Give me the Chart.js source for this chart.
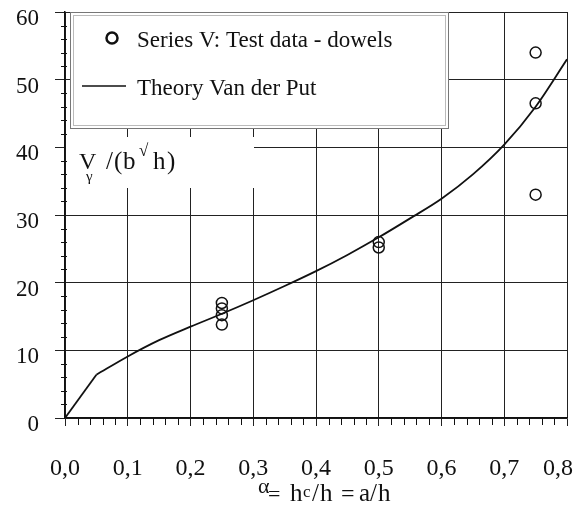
<!DOCTYPE html>
<html lang="en">
<head>
  <meta charset="UTF-8" />
  <title>Series V: Test data - dowels</title>
  <script src="https://cdn.jsdelivr.net/npm/chart.js"></script>
  <style>
    body { margin: 0; background: white; }
    #wrap { width: 581px; height: 510px; }
  </style>
</head>
<body>
  <div id="wrap"><canvas id="grafica"></canvas></div>
  <script>
    // tick labels
    const xTickLabels = ['0,0', '0,1', '0,2', '0,3', '0,4', '0,5', '0,6', '0,7', '0,8'];
    const yTickLabels = ['0', '10', '20', '30', '40', '50', '60'];

    // series V test data (dowels)
    const testX = [0.25, 0.25, 0.25, 0.25, 0.5, 0.5, 0.75, 0.75, 0.75];
    const testY = [17.0, 16.2, 15.2, 13.8, 26.0, 25.2, 54.0, 46.5, 33.0];

    // theory Van der Put
    const theoryX = [0, 0.05, 0.1, 0.15, 0.2, 0.25, 0.3, 0.35, 0.4, 0.45, 0.5, 0.55, 0.6, 0.65, 0.7, 0.75, 0.8];
    const theoryY = [0, 6.4, 9.1, 11.5, 13.5, 15.4, 17.4, 19.5, 21.7, 24.1, 26.7, 29.5, 32.4, 36.0, 40.4, 46.0, 53.0];

    const serif = "'Liberation Serif', 'DejaVu Serif', serif";
    const ink = '#111';

    const puntos = testX.map((x, i) => ({ x: x, y: testY[i] }));
    const curva = theoryX.map((x, i) => ({ x: x, y: theoryY[i] }));

    // text glyph groups: [text, x, baseline, font size]
    function letras(ctx, partes) {
      partes.forEach(p => {
        ctx.font = p[3] + 'px ' + serif;
        ctx.fillText(p[0], p[1], p[2]);
      });
    }

    // legend box, y label, minor ticks, x title
    const extras = {
      id: 'extras',
      beforeDatasetsDraw(chart) {
        const ctx = chart.ctx;
        const a = chart.chartArea;
        ctx.save();
        // legend box
        ctx.fillStyle = 'white';
        ctx.fillRect(a.left + 5, a.top + 1, 379, 116);
        ctx.strokeStyle = '#777';
        ctx.lineWidth = 1;
        ctx.strokeRect(a.left + 5.5, a.top + 0.5, 378, 116);
        ctx.strokeStyle = '#bbb';
        ctx.strokeRect(a.left + 8.5, a.top + 3.5, 372, 110);
        ctx.fillStyle = ink;
        ctx.textBaseline = 'alphabetic';
        ctx.textAlign = 'left';
        ctx.beginPath();
        ctx.lineWidth = 2.5;
        ctx.strokeStyle = ink;
        ctx.arc(112, a.top + 26, 5.5, 0, Math.PI * 2);
        ctx.stroke();
        ctx.font = '23px ' + serif;
        ctx.fillText(chart.data.datasets[0].label, 137, a.top + 35);
        ctx.beginPath();
        ctx.lineWidth = 1.5;
        ctx.moveTo(82, a.top + 74);
        ctx.lineTo(126, a.top + 74);
        ctx.stroke();
        ctx.fillText(chart.data.datasets[1].label, 137, a.top + 83);

        // y label with white background
        ctx.fillStyle = 'white';
        ctx.fillRect(a.left + 1, 137, 188, 51);
        ctx.fillStyle = ink;
        letras(ctx, [
          ['V', 79, 169, 24], ['γ', 86, 181, 15],
          ['/', 106, 169, 25], ['(', 114, 169, 25], ['b', 123, 169, 25],
          ['√', 139, 156, 17],
          ['h', 153, 169, 25], [')', 167, 169, 25]
        ]);
        ctx.restore();
      },
      afterDraw(chart) {
        const ctx = chart.ctx;
        const xs = chart.scales.x;
        const ys = chart.scales.y;
        const a = chart.chartArea;
        ctx.save();
        ctx.strokeStyle = ink;
        ctx.lineWidth = 1;
        ctx.beginPath();
        for (let i = 0; i <= 40; i++) {
          if (i % 5 === 0) continue;
          const px = Math.round(xs.getPixelForValue(i * 0.02)) + 0.5;
          ctx.moveTo(px, a.bottom);
          ctx.lineTo(px, a.bottom + 7);
        }
        for (let i = 0; i <= 30; i++) {
          if (i % 5 === 0) continue;
          const py = Math.round(ys.getPixelForValue(i * 2)) + 0.5;
          ctx.moveTo(a.left - 4, py);
          ctx.lineTo(a.left + 2, py);
        }
        ctx.stroke();

        // x title
        ctx.fillStyle = ink;
        ctx.textAlign = 'left';
        letras(ctx, [
          ['α', 258, 493, 22], ['=', 268, 501, 22],
          ['h', 290, 501, 25], ['c', 303, 497, 17], ['/', 312, 501, 25], ['h', 320, 501, 25],
          ['=', 341, 501, 24],
          ['a', 359, 501, 25], ['/', 370, 501, 25], ['h', 378, 501, 25]
        ]);
        ctx.restore();
      }
    };

    new Chart(document.getElementById('grafica'), {
      type: 'scatter',
      data: {
        datasets: [
          {
            label: 'Series V: Test data - dowels',
            data: puntos,
            showLine: false,
            pointStyle: 'circle',
            pointRadius: 5.5,
            pointBorderWidth: 1.5,
            pointBorderColor: ink,
            pointBackgroundColor: 'rgba(0,0,0,0)'
          },
          {
            label: 'Theory Van der Put',
            data: curva.slice(1),
            showLine: true,
            borderColor: ink,
            borderWidth: 1.8,
            pointRadius: 0,
            cubicInterpolationMode: 'monotone'
          },
          {
            // first straight piece of the same theory line
            label: 'Theory Van der Put',
            data: curva.slice(0, 2),
            showLine: true,
            borderColor: ink,
            borderWidth: 1.8,
            pointRadius: 0,
            tension: 0
          }
        ]
      },
      options: {
        responsive: true,
        maintainAspectRatio: false,
        animation: false,
        layout: { padding: { top: 12, right: 14, left: 0, bottom: 0 } },
        plugins: {
          legend: { display: false },
          tooltip: { enabled: false }
        },
        scales: {
          x: {
            type: 'linear',
            min: 0,
            max: 0.8,
            ticks: {
              stepSize: 0.1,
              padding: 28,
              color: ink,
              font: { family: serif, size: 24 },
              // last label pushed a little to the left so it stays on the page
              callback: (v, i) => (i === xTickLabels.length - 1 ? xTickLabels[i] + '\u00a0\u00a0\u00a0' : xTickLabels[i])
            },
            grid: { color: '#222', lineWidth: 1, tickLength: 8 },
            border: { color: ink, width: 1.5 },
            afterFit: s => {
              s.height = 92;
              s.paddingLeft = 0;
              s.paddingRight = 0;
            }
          },
          y: {
            min: 0,
            max: 60,
            ticks: {
              stepSize: 10,
              padding: 16,
              labelOffset: 7,
              color: ink,
              font: { family: serif, size: 23 },
              callback: (v, i) => yTickLabels[i]
            },
            grid: { color: '#222', lineWidth: 1, tickLength: 10 },
            border: { color: ink, width: 1.5 },
            afterFit: s => {
              s.width = 65;
              s.paddingTop = 0;
              s.paddingBottom = 0;
            }
          }
        }
      },
      plugins: [extras]
    });
  </script>
</body>
</html>
